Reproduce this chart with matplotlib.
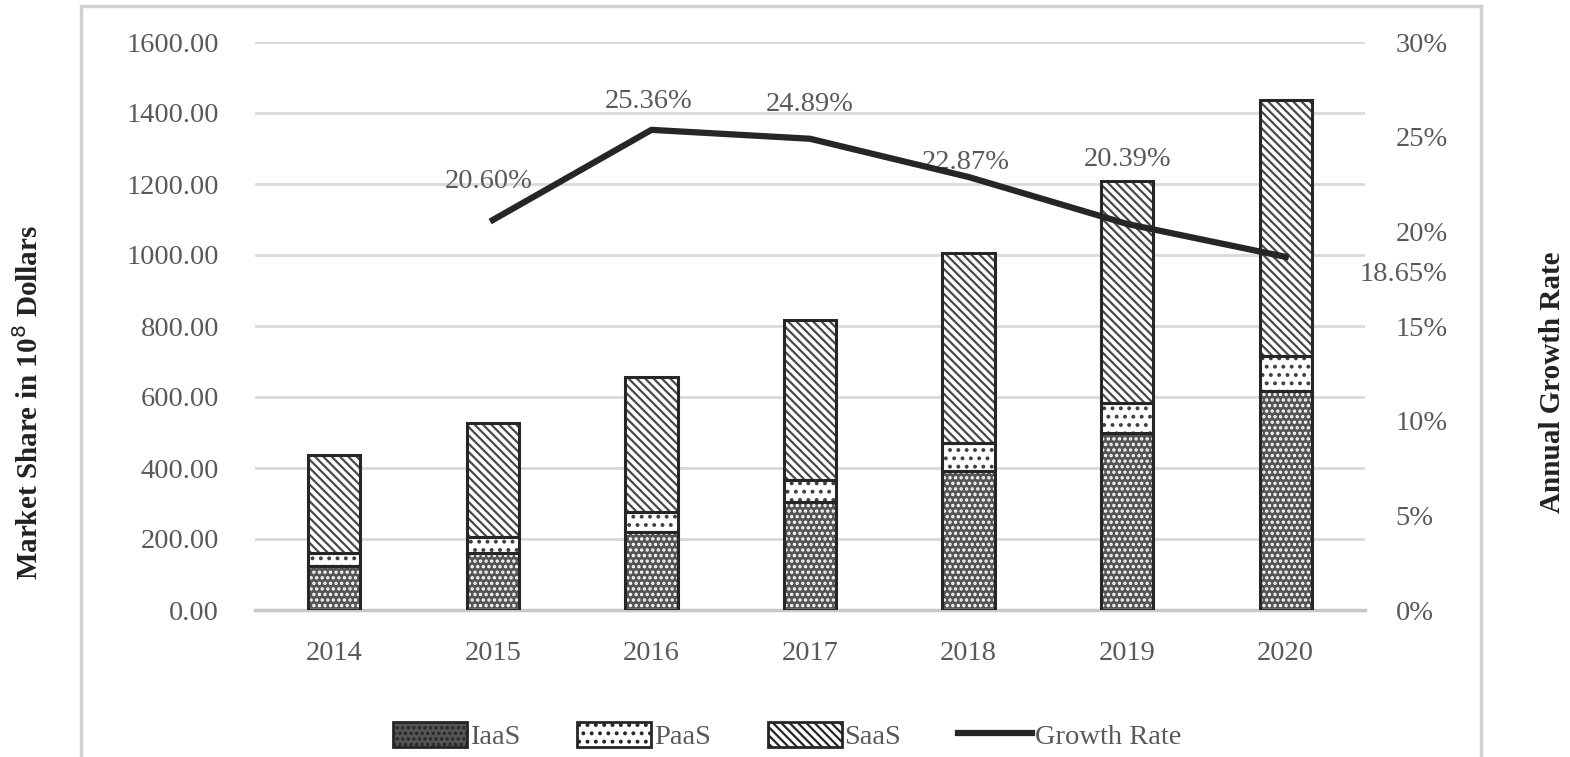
import matplotlib.pyplot as plt
import matplotlib.patches as mpatches
from matplotlib.lines import Line2D
from matplotlib.ticker import PercentFormatter
import numpy as np

plt.rcParams['font.family'] = ['Liberation Serif', 'DejaVu Serif']
plt.rcParams['hatch.linewidth'] = 1.6

# Datos
anios = ['2014', '2015', '2016', '2017', '2018', '2019', '2020']
iaas = [124, 161, 220, 304, 392, 498, 617]
paas = [37, 45, 56, 62, 79, 85, 99]
saas = [276, 321, 381, 451, 535, 626, 722]
crecimiento = [None, 20.60, 25.36, 24.89, 22.87, 20.39, 18.65]

GRIS_TEXTO = '#595959'
BORDE = '#262626'
TAM = 20.5

fig = plt.figure(figsize=(15.7, 7.57), dpi=100)
ax = fig.add_axes([255 / 1570, 147 / 757, 1110 / 1570, 568 / 757])
ax2 = ax.twinx()

x = np.arange(len(anios))
ancho = 0.33
base_paas = np.array(iaas)
base_saas = base_paas + np.array(paas)

estilos = {
    'IaaS': dict(face='#555555', hatch_col='white', hatch='...'),
    'PaaS': dict(face='white', hatch_col='#404040', hatch='..'),
    'SaaS': dict(face='white', hatch_col='#4a4a4a', hatch='\\\\\\\\'),
}

for nombre, vals, base in [('IaaS', iaas, 0), ('PaaS', paas, base_paas), ('SaaS', saas, base_saas)]:
    e = estilos[nombre]
    ax.bar(x, vals, ancho, bottom=base, color=e['face'], edgecolor=e['hatch_col'],
           hatch=e['hatch'], linewidth=0, zorder=2)
    ax.bar(x, vals, ancho, bottom=base, color='none', edgecolor=BORDE,
           linewidth=2.2, zorder=3)

ax.set_xlim(-0.5, 6.5)
ax.set_ylim(0, 1600)
ax.set_yticks(np.arange(0, 1601, 200))
ax.set_yticklabels([f'{v:.2f}' for v in np.arange(0, 1601, 200)])
ax.set_xticks(x)
ax.set_xticklabels(anios)
ax.yaxis.grid(True, color='#d9d9d9', linewidth=2)
ax.set_axisbelow(True)
for s in ['top', 'left', 'right']:
    ax.spines[s].set_visible(False)
ax.spines['bottom'].set_color('#c8c8c8')
ax.spines['bottom'].set_linewidth(2.5)
ax.tick_params(axis='both', length=0, labelsize=TAM, colors=GRIS_TEXTO)
ax.tick_params(axis='y', pad=26)
ax.tick_params(axis='x', pad=22)

# Linea de crecimiento
xs = [i for i, c in enumerate(crecimiento) if c is not None]
ys = [c for c in crecimiento if c is not None]
ax2.plot(xs, ys, color=BORDE, linewidth=4.5, zorder=5)
ax2.set_ylim(0, 30)
ax2.set_yticks(np.arange(0, 31, 5))
ax2.yaxis.set_major_formatter(PercentFormatter(decimals=0))
for s in ['top', 'left', 'right', 'bottom']:
    ax2.spines[s].set_visible(False)
ax2.tick_params(axis='y', length=0, labelsize=TAM, colors=GRIS_TEXTO, pad=22)

desplaz = [(-4, 38), (-3, 28), (0, 34), (-3, 14), (0, 64), (118, -18)]
for xi, yi, d in zip(xs, ys, desplaz):
    ax2.annotate(f'{yi:.2f}%', (xi, yi), xytext=d, textcoords='offset pixels',
                 ha='center', va='center', fontsize=TAM, color=GRIS_TEXTO)

fig.text(29 / 1570, 1 - 402 / 757, 'Market Share in 10$^8$ Dollars', rotation=90,
         ha='center', va='center', fontsize=21, fontweight='bold', color='#222222')
fig.text(1553 / 1570, 1 - 382 / 757, 'Annual Growth Rate', rotation=90,
         ha='center', va='center', fontsize=21, fontweight='bold', color='#222222')

# Marco
marco = mpatches.Rectangle((81 / 1570, -0.01), 1400 / 1570, 1 - 6 / 757 + 0.01,
                           transform=fig.transFigure, fill=False,
                           edgecolor='#d0d0d0', linewidth=2.5)
fig.add_artist(marco)

# Leyenda
manejadores = []
for nombre in ['IaaS', 'PaaS', 'SaaS']:
    e = estilos[nombre]
    manejadores.append(mpatches.Patch(facecolor=e['face'], edgecolor=BORDE,
                                      hatch=e['hatch'], linewidth=2, label=nombre))
manejadores.append(Line2D([0], [0], color=BORDE, linewidth=4.5, label='Growth Rate'))
fig.legend(handles=manejadores, loc='center', bbox_to_anchor=(787 / 1570, 1 - 736 / 757),
           ncol=4, frameon=False, fontsize=TAM, labelcolor=GRIS_TEXTO,
           handlelength=2.6, handleheight=1.0, handletextpad=0.1, columnspacing=2.0)

fig.savefig('out.png', dpi=100)
